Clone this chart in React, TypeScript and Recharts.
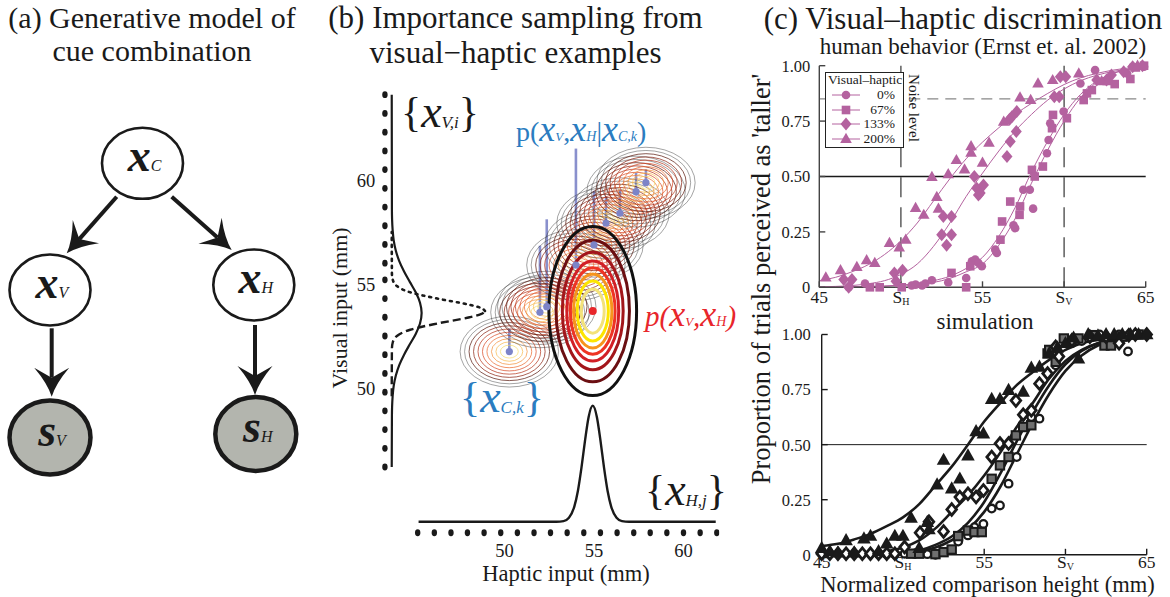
import {
  ComposedChart, ErrorBar, Line, ReferenceLine, Scatter, ScatterChart, XAxis, YAxis,
} from 'recharts'

const SERIF = '"Liberation Serif", "Times New Roman", Times, serif'
const INK = '#1a1a1a'
const MAGENTA = '#b4629f'
const BLUE_TXT = '#2b7cc0'
const STEM = '#7c84c8'
const RED = '#e8262b'

// ---------- (a) generative model: nodes and edges in diagram units ----------
const NODE_SYMBOL = ['x', 'x', 'x', 's', 's']
const NODE_SUB = ['C', 'V', 'H', 'V', 'H']
const NODE_X = [142.5, 50, 253.8, 50, 255.8]
const NODE_Y = [163.3, 290, 285, 437.5, 434]
const NODE_OBSERVED = [false, false, false, true, true]
const EDGE_X1 = [116.7, 171.7, 51.7, 255]
const EDGE_Y1 = [196.7, 196.7, 328.3, 325]
const EDGE_X2 = [66.7, 231.7, 51.7, 255]
const EDGE_Y2 = [253.3, 250, 396.7, 395]

// ---------- (b) importance sampling ----------
// samples x_C,k: haptic / visual location and importance weight (mm)
const SAMPLE_H = [50.27, 51.98, 52.36, 53.99, 55.0, 55.67, 56.45, 57.35, 57.9]
const SAMPLE_V = [51.75, 53.64, 53.91, 55.91, 56.88, 57.92, 58.4, 59.44, 59.87]
const SAMPLE_W = [1.1, 3.2, 4.2, 5.6, 2.6, 1.3, 1.1, 0.9, 0.65]
const SAMPLE_SD_H = 1.0
const SAMPLE_SD_V = 0.62
const SAMPLE_LEVELS = [2.75, 2.5, 2.25, 2.0, 1.75, 1.5, 1.25, 1.0, 0.75, 0.5]
// joint p(x_V, x_H)
const JOINT_H = 54.93
const JOINT_V = 53.7
const JOINT_SD_H = 1.0
const JOINT_SD_V = 1.66
const JOINT_LEVELS = [2.45, 2.05, 1.7, 1.45, 1.25, 1.07, 0.87, 0.64]
// haptic marginal drawn above the x_H,j row
const HAPTIC_CURVE_H = [45.2, 52.9, 53.3, 53.6, 53.9, 54.1, 54.3, 54.5, 54.7, 54.93, 55.16, 55.36, 55.56, 55.76, 55.96, 56.26, 56.56, 56.96, 61.8]
const HAPTIC_CURVE_V = [43.57, 43.57, 43.6, 43.76, 44.3, 45.05, 46.17, 47.48, 48.61, 49.15, 48.61, 47.48, 46.17, 45.05, 44.3, 43.76, 43.6, 43.57, 43.57]
// visual marginal beside the x_V,i column
const VISUAL_CURVE_V = [46.2, 48.6, 49.1, 49.6, 50.1, 50.6, 51.1, 51.6, 52.1, 52.6, 53.1, 53.6, 54.1, 54.6, 55.1, 55.6, 56.1, 56.6, 57.1, 57.6, 58.1, 58.6, 64.1]
const VISUAL_CURVE_H = [43.7, 43.71, 43.72, 43.75, 43.81, 43.93, 44.12, 44.39, 44.71, 45.04, 45.28, 45.37, 45.28, 45.04, 44.71, 44.39, 44.12, 43.93, 43.81, 43.75, 43.72, 43.71, 43.7]
// sharpened visual density (upper half dotted, lower half dashed)
const POST_UP_V = [53.7, 53.85, 54.0, 54.3, 54.6, 54.9, 55.2, 55.5, 57.5]
const POST_UP_H = [48.91, 48.68, 48.05, 46.24, 44.73, 43.99, 43.76, 43.71, 43.7]
const POST_LO_V = [49.6, 51.9, 52.2, 52.5, 52.8, 53.1, 53.4, 53.55, 53.7]
const POST_LO_H = [43.7, 43.71, 43.76, 43.99, 44.73, 46.24, 48.05, 48.68, 48.91]
// example rows
const HAPTIC_EXAMPLES = [45.15, 46.08, 47.01, 47.93, 48.86, 49.79, 50.72, 51.65, 52.57, 53.5, 54.43, 55.36, 56.29, 57.22, 58.14, 59.07, 60.0, 60.93, 61.86]
const HAPTIC_ROW_V = 43.04
const VISUAL_EXAMPLES = [64.1, 63.2, 62.3, 61.4, 60.5, 59.6, 58.7, 57.8, 56.9, 56.0, 55.2, 54.3, 53.4, 52.5, 51.6, 50.7, 49.8, 48.9, 48.0, 47.1, 46.2]
const VISUAL_ROW_H = 43.32
const B_TICKS = [50, 55, 60]

// ---------- (c) psychometric curves ----------
const GRID_X = [45, 46, 47, 48, 49, 50, 51, 52, 53, 54, 55, 56, 57, 58, 59, 60, 61, 62, 63, 64, 65]
const X_TICKS = [45, 50, 55, 60, 65]
const X_TICK_TEXT = ['45', 'S_H', '55', 'S_V', '65']
const Y_TICKS = [0, 0.25, 0.5, 0.75, 1]
const NOISE_LEVEL = 0.85
const LEGEND_NAMES = ['0%', '67%', '133%', '200%']
const MARKERS = ['circle', 'square', 'diamond', 'triangle']

const HUMAN_FIT_0 = [0, 0.001, 0.002, 0.003, 0.005, 0.008, 0.013, 0.022, 0.04, 0.07, 0.105, 0.19, 0.31, 0.47, 0.62, 0.75, 0.855, 0.925, 0.965, 0.985, 0.995]
const HUMAN_FIT_67 = [0, 0.001, 0.002, 0.004, 0.006, 0.01, 0.017, 0.03, 0.05, 0.085, 0.135, 0.23, 0.36, 0.52, 0.66, 0.78, 0.87, 0.93, 0.965, 0.985, 0.995]
const HUMAN_FIT_133 = [0.002, 0.004, 0.008, 0.016, 0.03, 0.058, 0.105, 0.185, 0.29, 0.41, 0.515, 0.615, 0.705, 0.78, 0.845, 0.895, 0.932, 0.957, 0.974, 0.985, 0.992]
const HUMAN_FIT_200 = [0.03, 0.045, 0.07, 0.102, 0.148, 0.21, 0.29, 0.39, 0.49, 0.58, 0.655, 0.72, 0.78, 0.83, 0.875, 0.915, 0.945, 0.965, 0.98, 0.99, 0.997]

const SIM_FIT_0 = [0, 0, 0, 0.001, 0.003, 0.007, 0.015, 0.033, 0.066, 0.115, 0.195, 0.31, 0.455, 0.6, 0.73, 0.835, 0.905, 0.95, 0.972, 0.983, 0.988]
const SIM_FIT_67 = [0, 0, 0.001, 0.002, 0.005, 0.009, 0.02, 0.045, 0.083, 0.145, 0.24, 0.37, 0.515, 0.65, 0.77, 0.865, 0.925, 0.96, 0.977, 0.985, 0.988]
const SIM_FIT_133 = [0.003, 0.004, 0.006, 0.008, 0.016, 0.033, 0.065, 0.12, 0.195, 0.27, 0.36, 0.465, 0.58, 0.69, 0.8, 0.88, 0.93, 0.96, 0.975, 0.982, 0.986]
const SIM_FIT_200 = [0.04, 0.05, 0.07, 0.095, 0.13, 0.17, 0.23, 0.315, 0.4, 0.5, 0.605, 0.69, 0.77, 0.83, 0.885, 0.93, 0.96, 0.975, 0.982, 0.985, 0.987]

// human behaviour (Ernst & Banks 2002)
const HUMAN_0_X = [46.8, 47.8, 50.66, 50.9, 51.3, 51.5, 51.9, 52.9, 54.0, 54.35, 54.55, 54.75, 54.96, 55.78, 55.88, 56.9, 57.0, 57.5, 57.9, 58.1, 58.95, 59.05, 59.15, 59.97, 61.0, 61.9, 63.86, 64.2, 64.9]
const HUMAN_0_Y = [0, 0.017, 0.008, 0.012, 0.008, 0.017, 0.032, 0.022, 0.042, 0.117, 0.125, 0.11, 0.095, 0.17, 0.155, 0.28, 0.267, 0.44, 0.44, 0.355, 0.605, 0.665, 0.74, 0.793, 0.92, 0.98, 0.965, 0.995, 0.995]
const HUMAN_67_X = [48.1, 48.7, 50.05, 53.1, 54.0, 54.25, 56.1, 56.2, 56.7, 57.27, 57.3, 58.03, 58.2, 58.7, 59.26, 59.32, 60.17, 61.2, 61.4, 61.7, 63.1, 64.06, 64.4, 64.9]
const HUMAN_67_Y = [0, 0, 0, 0.065, 0, 0.095, 0.215, 0.297, 0.387, 0.327, 0.365, 0.53, 0.5, 0.545, 0.718, 0.778, 0.763, 0.845, 0.875, 0.89, 0.917, 0.94, 0.992, 1.0]
const HUMAN_133_X = [46.5, 46.8, 47.0, 49.6, 49.7, 50.1, 52.5, 52.6, 52.8, 53.1, 53.1, 54.5, 54.65, 54.75, 54.86, 55.06, 56.5, 56.66, 56.7, 56.8, 57.07, 57.1, 59.4, 59.7, 59.77, 60.1, 62.0, 62.6, 62.9, 63.65, 64.2, 64.8]
const HUMAN_133_Y = [0.035, 0, 0.035, 0.065, 0.027, 0.077, 0.237, 0.32, 0.19, 0.32, 0.237, 0.5, 0.447, 0.417, 0.425, 0.462, 0.59, 0.758, 0.658, 0.77, 0.703, 0.793, 0.86, 0.86, 0.95, 0.95, 0.935, 0.935, 0.958, 0.973, 0.995, 1.0]
const HUMAN_200_X = [45.4, 46.3, 47.3, 47.9, 48.4, 49.3, 49.9, 50.3, 50.9, 51.4, 51.9, 52.2, 52.3, 52.9, 53.4, 53.9, 54.3, 54.3, 55.0, 55.4, 56.3, 57.3, 57.95, 58.4, 59.3, 60.9, 62.3, 62.7, 64.5]
const HUMAN_200_Y = [0.044, 0.077, 0.092, 0.122, 0.11, 0.2, 0.18, 0.215, 0.358, 0.327, 0.498, 0.408, 0.355, 0.51, 0.574, 0.532, 0.637, 0.607, 0.562, 0.652, 0.747, 0.857, 0.845, 0.92, 0.935, 0.965, 0.93, 0.93, 1.0]

// simulation
const SIM_0_X = [48.5, 49.0, 49.5, 50.1, 50.7, 51.5, 52.0, 52.5, 53.4, 54.0, 54.4, 54.95, 55.46, 55.97, 56.5, 57.0, 57.9, 58.4, 59.4, 60.4, 61.0, 62.1, 63.3, 63.85, 64.5]
const SIM_0_Y = [0.003, 0.003, 0.003, 0.005, 0.005, 0.003, 0, 0.012, 0.06, 0.088, 0.125, 0.14, 0.21, 0.224, 0.323, 0.444, 0.625, 0.618, 0.86, 0.96, 0.97, 1.0, 1.0, 0.923, 1.0]
const SIM_67_X = [50.5, 51.0, 52.0, 52.5, 53.0, 53.4, 54.0, 54.4, 54.85, 55.46, 55.97, 56.5, 56.95, 57.4, 57.9, 58.9, 59.0, 59.4, 59.9, 60.8, 61.7, 62.4, 62.8, 63.5, 64.5]
const SIM_67_Y = [0.005, 0.005, 0.003, 0.012, 0.024, 0.085, 0.11, 0.103, 0.103, 0.345, 0.406, 0.444, 0.542, 0.58, 0.588, 0.914, 0.93, 0.876, 0.982, 0.982, 0.997, 0.95, 0.95, 0.99, 1.0]
const SIM_133_X = [45.0, 45.5, 46.0, 46.5, 47.0, 47.5, 48.0, 48.5, 49.0, 49.5, 50.1, 51.05, 51.6, 52.5, 53.0, 53.5, 54.0, 54.5, 54.95, 55.46, 55.97, 56.5, 56.95, 57.4, 57.9, 58.4, 58.9, 59.4, 59.6, 60.4, 61.5, 62.5, 63.3, 63.9, 64.3, 65.0]
const SIM_133_Y = [0.005, 0.005, 0.005, 0.005, 0.005, 0.005, 0.005, 0.005, 0.005, 0.005, 0.035, 0.1, 0.15, 0.106, 0.206, 0.262, 0.277, 0.262, 0.292, 0.444, 0.505, 0.505, 0.7, 0.636, 0.656, 0.777, 0.823, 0.944, 0.9, 0.974, 0.99, 0.99, 0.96, 0.997, 1.0, 1.0]
const SIM_200_X = [45.0, 45.5, 46.0, 46.5, 47.0, 47.6, 48.0, 48.5, 49.0, 49.5, 50.0, 50.5, 51.0, 51.5, 51.6, 52.1, 52.5, 53.0, 53.5, 54.0, 54.5, 54.95, 55.46, 55.97, 56.5, 57.4, 57.9, 58.4, 59.0, 59.5, 60.0, 60.5, 60.8, 61.4, 62.0, 62.5, 63.0, 63.5, 64.0, 64.5, 65.0]
const SIM_200_Y = [0.03, 0.015, 0.01, 0.065, 0.01, 0.073, 0.085, 0.015, 0.05, 0.085, 0.085, 0.167, 0.03, 0.148, 0.115, 0.318, 0.43, 0.3, 0.345, 0.45, 0.56, 0.55, 0.706, 0.706, 0.747, 0.739, 0.848, 0.853, 0.914, 0.94, 0.96, 0.985, 0.89, 1.0, 0.995, 1.0, 1.0, 1.0, 1.0, 1.0, 1.0]

const HUMAN_FITS = [HUMAN_FIT_0, HUMAN_FIT_67, HUMAN_FIT_133, HUMAN_FIT_200]
const SIM_FITS = [SIM_FIT_0, SIM_FIT_67, SIM_FIT_133, SIM_FIT_200]
const HUMAN_PTS = [[HUMAN_0_X, HUMAN_0_Y], [HUMAN_67_X, HUMAN_67_Y], [HUMAN_133_X, HUMAN_133_Y], [HUMAN_200_X, HUMAN_200_Y]]
const SIM_PTS = [[SIM_0_X, SIM_0_Y], [SIM_67_X, SIM_67_Y], [SIM_133_X, SIM_133_Y], [SIM_200_X, SIM_200_Y]]

// ---------- layout of chart (b) ----------
const B_W = 420
const B_H = 520
const B_MARGIN = { top: 26.4, right: 20.7, bottom: 8.1, left: 29.2 }
const B_AXIS = 30
const B_XDOM = [43, 62]
const B_YDOM = [42.6, 64.5]
const PX_H = (B_W - B_MARGIN.left - B_MARGIN.right - B_AXIS) / (B_XDOM[1] - B_XDOM[0])
const PX_V = (B_H - B_MARGIN.top - B_MARGIN.bottom - B_AXIS) / (B_YDOM[1] - B_YDOM[0])

const SAMPLE_RING = ['#333', '#333', '#5a1a10', '#8b2312', '#b5351c', '#d84a26', '#ec6a2e', '#f4913c', '#f8b94e', '#f6dc6c']
const JOINT_RING = ['#111', '#6b0f12', '#a3161b', '#d21f26', '#ee3424', '#f7941d', '#fde500', '#f3e27a']

const zip = (xs: number[], ys: number[]) => xs.map((x, i) => ({ x, y: ys[i] }))
const blankTick = () => <g />

// ---------- (a) ----------
function NodeShape (p: any) {
  const { cx, cy, payload } = p
  if (cx == null || cy == null) return null
  const obs = payload.observed
  return (
    <g>
      <ellipse cx={cx} cy={cy} rx={40.5} ry={obs ? 37 : 35.5}
        fill={obs ? '#b3b5ae' : '#fff'} stroke={INK} strokeWidth={obs ? 4.5 : 2.6} />
      <text x={cx + 2} y={cy + 8} textAnchor="middle" fontFamily={SERIF} fill={INK}>
        <tspan fontSize={46} fontWeight="bold" fontStyle="italic">{payload.symbol}</tspan>
        <tspan fontSize={16} fontStyle="italic">{payload.sub}</tspan>
      </text>
    </g>
  )
}

function ArrowShape (p: any) {
  const { x1, y1, x2, y2 } = p
  const dx = x2 - x1
  const dy = y2 - y1
  const len = Math.hypot(dx, dy) || 1
  const ux = dx / len
  const uy = dy / len
  const nx = -uy
  const ny = ux
  const headL = 29
  const headW = 17.5
  const notch = 19
  const bx = x2 - ux * headL
  const by = y2 - uy * headL
  const mx = x2 - ux * notch
  const my = y2 - uy * notch
  const c1x = x2 - ux * headL * 0.45 + nx * 4
  const c1y = y2 - uy * headL * 0.45 + ny * 4
  const c2x = x2 - ux * headL * 0.45 - nx * 4
  const c2y = y2 - uy * headL * 0.45 - ny * 4
  const d = `M${x2},${y2} Q${c1x},${c1y} ${bx + nx * headW},${by + ny * headW} L${mx},${my} L${bx - nx * headW},${by - ny * headW} Q${c2x},${c2y} ${x2},${y2} Z`
  return (
    <g>
      <line x1={x1} y1={y1} x2={mx} y2={my} stroke={INK} strokeWidth={4} />
      <path d={d} fill={INK} />
    </g>
  )
}

function ModelChart () {
  const nodes = NODE_SYMBOL.map((symbol, i) => ({
    x: NODE_X[i], y: NODE_Y[i], symbol, sub: NODE_SUB[i], observed: NODE_OBSERVED[i],
  }))
  return (
    <ScatterChart width={320} height={597} margin={{ top: 0, right: 0, bottom: 0, left: 0 }}>
      <XAxis type="number" dataKey="x" domain={[0, 320]} hide />
      <YAxis type="number" dataKey="y" domain={[0, 597]} reversed hide />
      {EDGE_X1.map((x1, i) => (
        <ReferenceLine key={i} segment={[{ x: x1, y: EDGE_Y1[i] }, { x: EDGE_X2[i], y: EDGE_Y2[i] }]}
          shape={ArrowShape} ifOverflow="visible" />
      ))}
      <Scatter data={nodes} shape={NodeShape} isAnimationActive={false} />
    </ScatterChart>
  )
}

// ---------- (b) ----------
function SampleContours (p: any) {
  const { cx, cy } = p
  if (cx == null || cy == null) return null
  return (
    <g>
      {SAMPLE_LEVELS.map((k, i) => (
        <ellipse key={i} cx={cx} cy={cy} rx={k * SAMPLE_SD_H * PX_H} ry={k * SAMPLE_SD_V * PX_V}
          fill="none" stroke={SAMPLE_RING[i]} strokeWidth={i < 2 ? 0.6 : 0.9} opacity={i < 2 ? 0.75 : 0.8} />
      ))}
    </g>
  )
}

function JointContours (p: any) {
  const { cx, cy } = p
  if (cx == null || cy == null) return null
  return (
    <g>
      {JOINT_LEVELS.map((k, i) => (
        <ellipse key={i} cx={cx} cy={cy} rx={k * JOINT_SD_H * PX_H} ry={k * JOINT_SD_V * PX_V}
          fill="none" stroke={JOINT_RING[i]} strokeWidth={3} />
      ))}
      <circle cx={cx} cy={cy} r={4} fill={RED} />
    </g>
  )
}

function StemDot (p: any) {
  const { cx, cy } = p
  if (cx == null || cy == null) return null
  return <circle cx={cx} cy={cy} r={3.6} fill={STEM} />
}

function RowDot (p: any) {
  const { cx, cy } = p
  if (cx == null || cy == null) return null
  return <ellipse cx={cx} cy={cy} rx={2.7} ry={3.4} fill={INK} />
}

function SamplingChart () {
  const samples = SAMPLE_H.map((h, i) => ({ h, v: SAMPLE_V[i], w: [0, SAMPLE_W[i]] }))
  const joint = [{ h: JOINT_H, v: JOINT_V }]
  const hapticCurve = HAPTIC_CURVE_H.map((h, i) => ({ h, v: HAPTIC_CURVE_V[i] }))
  const visualCurve = VISUAL_CURVE_V.map((v, i) => ({ h: VISUAL_CURVE_H[i], v }))
  const postUp = POST_UP_V.map((v, i) => ({ h: POST_UP_H[i], v }))
  const postLo = POST_LO_V.map((v, i) => ({ h: POST_LO_H[i], v }))
  const hRow = HAPTIC_EXAMPLES.map((h) => ({ h, v: HAPTIC_ROW_V }))
  const vRow = VISUAL_EXAMPLES.map((v) => ({ h: VISUAL_ROW_H, v }))
  const tick = { fontSize: 18.5, fill: INK, fontFamily: SERIF }
  return (
    <ComposedChart width={B_W} height={B_H} margin={B_MARGIN}>
      <XAxis type="number" dataKey="h" domain={B_XDOM} ticks={B_TICKS} interval={0} axisLine={false}
        tickLine={false} tickSize={2} tickMargin={0} height={B_AXIS} tick={tick} allowDataOverflow />
      <YAxis type="number" dataKey="v" domain={B_YDOM} ticks={B_TICKS} interval={0} axisLine={false}
        tickLine={false} tickSize={4} tickMargin={0} width={B_AXIS} tick={tick} allowDataOverflow />
      <Scatter data={samples} shape={SampleContours} isAnimationActive={false} />
      <Scatter data={joint} shape={JointContours} isAnimationActive={false} />
      <Scatter data={samples} shape={StemDot} isAnimationActive={false}>
        <ErrorBar dataKey="w" direction="y" width={0} stroke={STEM} strokeWidth={2.6} strokeOpacity={0.9} />
      </Scatter>
      <Line data={hapticCurve} dataKey="v" type="monotone" stroke={INK} strokeWidth={2.4} dot={false} isAnimationActive={false} />
      <Line data={visualCurve} dataKey="v" type="monotoneY" stroke={INK} strokeWidth={2.2} dot={false} isAnimationActive={false} />
      <Line data={postUp} dataKey="v" type="monotoneY" stroke={INK} strokeWidth={2.6} strokeDasharray="2 5"
        strokeLinecap="round" dot={false} isAnimationActive={false} />
      <Line data={postLo} dataKey="v" type="monotoneY" stroke={INK} strokeWidth={2.4} strokeDasharray="8 4"
        dot={false} isAnimationActive={false} />
      <Scatter data={hRow} shape={RowDot} isAnimationActive={false} />
      <Scatter data={vRow} shape={RowDot} isAnimationActive={false} />
    </ComposedChart>
  )
}

// ---------- (c) ----------
function Marker ({ kind, cx, cy, human }: { kind: string; cx: number; cy: number; human?: boolean }) {
  if (human) {
    if (kind === 'circle') return <circle cx={cx} cy={cy} r={4.3} fill={MAGENTA} />
    if (kind === 'square') return <rect x={cx - 4.3} y={cy - 4.3} width={8.6} height={8.6} fill={MAGENTA} />
    if (kind === 'diamond') return <polygon points={`${cx},${cy - 6.5} ${cx + 5.5},${cy} ${cx},${cy + 6.5} ${cx - 5.5},${cy}`} fill={MAGENTA} />
    return <polygon points={`${cx},${cy - 6.2} ${cx + 5.8},${cy + 4} ${cx - 5.8},${cy + 4}`} fill={MAGENTA} />
  }
  if (kind === 'circle') return <circle cx={cx} cy={cy} r={3.8} fill="#fff" stroke={INK} strokeWidth={2.3} />
  if (kind === 'square') return <rect x={cx - 4.2} y={cy - 4.2} width={8.4} height={8.4} fill="#6f6f6f" stroke={INK} strokeWidth={2} />
  if (kind === 'diamond') return <polygon points={`${cx},${cy - 5.8} ${cx + 4.8},${cy} ${cx},${cy + 5.8} ${cx - 4.8},${cy}`} fill="#fff" stroke={INK} strokeWidth={2.8} />
  return <polygon points={`${cx},${cy - 7.4} ${cx + 6.8},${cy + 4.8} ${cx - 6.8},${cy + 4.8}`} fill={INK} />
}

function PsychXTick (p: any) {
  const { x, y, payload } = p
  const label = X_TICK_TEXT[X_TICKS.indexOf(payload.value)] ?? String(payload.value)
  const sub = label.includes('_') ? label.split('_')[1] : null
  return (
    <text x={x} y={y} dy="0.71em" textAnchor="middle" fontFamily={SERIF} fontSize={17.5} fill={INK}>
      {sub ? (<><tspan>S</tspan><tspan fontSize={10} dy={2}>{sub}</tspan></>) : label}
    </text>
  )
}

function PsychChart ({ human }: { human?: boolean }) {
  const ink = human ? MAGENTA : INK
  const frame = human ? '#444' : INK
  const fits = human ? HUMAN_FITS : SIM_FITS
  const pts = human ? HUMAN_PTS : SIM_PTS
  const margin = human
    ? { top: 10.7, right: 14.3, bottom: 2.7, left: 9.3 }
    : { top: 12.5, right: 13.3, bottom: 12.2, left: 11.7 }
  return (
    <ComposedChart width={400} height={human ? 265 : 275} margin={margin}>
      <XAxis type="number" dataKey="x" domain={[45, 65]} ticks={X_TICKS} interval={0} tick={PsychXTick}
        tickSize={-6} tickMargin={human ? 9.5 : 6.5} height={30} stroke={frame} strokeWidth={1.4} />
      <XAxis xAxisId="top" orientation="top" type="number" domain={[45, 65]} ticks={X_TICKS} interval={0}
        tick={blankTick} tickSize={-6} height={0} stroke={frame} strokeWidth={1.4} />
      <YAxis type="number" dataKey="y" domain={[0, 1]} ticks={Y_TICKS} interval={0}
        tickFormatter={(v: number) => (v === 0 ? '0' : v.toFixed(2))}
        tick={{ fontSize: 16.5, fill: INK, fontFamily: SERIF }} tickSize={-6} tickMargin={human ? 15 : 17}
        width={50} stroke={frame} strokeWidth={1.4} />
      <YAxis yAxisId="right" orientation="right" type="number" domain={[0, 1]} ticks={Y_TICKS} interval={0}
        tick={blankTick} tickSize={-6} width={0} stroke={frame} strokeWidth={1.4} />
      {human && <ReferenceLine x={50} stroke="#444" strokeWidth={1.3} strokeDasharray="20 10" />}
      {human && <ReferenceLine x={60} stroke="#444" strokeWidth={1.3} strokeDasharray="20 10" />}
      {human && <ReferenceLine y={NOISE_LEVEL} stroke="#888" strokeWidth={1.3} strokeDasharray="11 7" />}
      <ReferenceLine y={0.5} stroke={INK} strokeWidth={human ? 1.6 : 1} />
      {fits.map((f, i) => (
        <Line key={`f${i}`} data={zip(GRID_X, f)} dataKey="y" type="monotone" stroke={ink}
          strokeWidth={human ? 1 : 2.6} dot={false} isAnimationActive={false} />
      ))}
      {pts.map(([xs, ys], i) => (
        <Scatter key={`p${i}`} data={zip(xs, ys)} isAnimationActive={false}
          shape={(s: any) => <Marker kind={MARKERS[i]} cx={s.cx} cy={s.cy} human={human} />} />
      ))}
    </ComposedChart>
  )
}

function HumanLegend () {
  return (
    <div style={{
      position: 'absolute', left: 825, top: 72, width: 77, height: 74, border: '1px solid #222',
      background: '#fff', fontFamily: SERIF, color: INK,
    }}>
      <div style={{ position: 'absolute', left: 2, top: 0, fontSize: 13.5, lineHeight: '14px', whiteSpace: 'nowrap' }}>Visual–haptic</div>
      {LEGEND_NAMES.map((name, i) => (
        <div key={name} style={{ position: 'absolute', left: 0, top: 15.2 + i * 14.6, width: 77, height: 14 }}>
          <svg width={34} height={14} style={{ position: 'absolute', left: 0, top: 0 }}>
            <line x1={6} x2={34} y1={7} y2={7} stroke={MAGENTA} strokeWidth={1} />
            <Marker kind={MARKERS[i]} cx={20} cy={7} human />
          </svg>
          <div style={{ position: 'absolute', right: 8, top: 0, fontSize: 13.5, lineHeight: '14px' }}>{name}</div>
        </div>
      ))}
    </div>
  )
}

function Caption ({ x, y, size, rotate, children }: { x: number; y: number; size: number; rotate?: number; children: any }) {
  return (
    <div style={{
      position: 'absolute', left: x, top: y, fontSize: size, lineHeight: 1, whiteSpace: 'nowrap',
      transform: `translate(-50%, -50%)${rotate ? ` rotate(${rotate}deg)` : ''}`,
    }}>{children}</div>
  )
}

// two-line panel heading, positioned by its first baseline
function Heading ({ x, baseline, lineGap, size, first, second }: { x: number; baseline: number; lineGap: number; size: number; first: string; second: string }) {
  const top = baseline - lineGap / 2 - 0.3375 * size
  return (
    <div style={{
      position: 'absolute', left: x, top, transform: 'translateX(-50%)', fontSize: size,
      lineHeight: `${lineGap}px`, whiteSpace: 'nowrap', textAlign: 'center',
    }}>{first}<br />{second}</div>
  )
}

// {x_sub} set label, glyphs laid out in sequence
function SetLabel ({ x, y, color, sub }: { x: number; y: number; color: string; sub: string }) {
  return (
    <text x={x} y={y} fontFamily={SERIF} fontSize={42} fill={color}>
      <tspan dy={-1}>{'{'}</tspan>
      <tspan dy={1} fontSize={46} fontStyle="italic">x</tspan>
      <tspan dy={1} fontSize={17} fontStyle="italic">{sub}</tspan>
      <tspan dy={-2}>{'}'}</tspan>
    </text>
  )
}

function MathLabels () {
  return (
    <svg width={1170} height={597} style={{ position: 'absolute', left: 0, top: 0, pointerEvents: 'none' }}>
      <SetLabel x={401} y={127} color={INK} sub="V,i" />
      <SetLabel x={460} y={412} color={BLUE_TXT} sub="C,k" />
      <SetLabel x={645} y={505} color={INK} sub="H,j" />
      {/* p(x_V, x_H | x_C,k) */}
      <text x={516} y={141} fontFamily={SERIF} fill={BLUE_TXT} fontSize={28}>
        <tspan>p(</tspan>
        <tspan fontSize={36} fontStyle="italic">x</tspan><tspan fontSize={13} fontStyle="italic">V</tspan>
        <tspan>,</tspan>
        <tspan fontSize={36} fontStyle="italic">x</tspan><tspan fontSize={14} fontStyle="italic">H</tspan>
        <tspan>|</tspan>
        <tspan fontSize={36} fontStyle="italic">x</tspan><tspan fontSize={14} fontStyle="italic">C,k</tspan>
        <tspan>)</tspan>
      </text>
      {/* p(x_V, x_H) */}
      <text x={645} y={326} fontFamily={SERIF} fill={RED} fontSize={29} fontStyle="italic">
        <tspan>p(</tspan>
        <tspan fontSize={36}>x</tspan><tspan fontSize={13}>V</tspan>
        <tspan>,</tspan>
        <tspan fontSize={36}>x</tspan><tspan fontSize={14}>H</tspan>
        <tspan>)</tspan>
      </text>
    </svg>
  )
}

export default function App () {
  return (
    <div style={{
      position: 'absolute', left: 0, top: 0, width: 1170, height: 597, background: '#fff',
      fontFamily: SERIF, color: INK, overflow: 'hidden',
    }}>
      <div style={{ position: 'absolute', left: 0, top: 0 }}><ModelChart /></div>
      <div style={{ position: 'absolute', left: 320, top: 60 }}><SamplingChart /></div>
      <div style={{ position: 'absolute', left: 760, top: 55 }}><PsychChart human /></div>
      <div style={{ position: 'absolute', left: 760, top: 322 }}><PsychChart /></div>
      <HumanLegend />
      <MathLabels />

      <Heading x={152} baseline={27.5} lineGap={33.4} size={30} first="(a) Generative model of" second="cue combination" />
      <Heading x={515.5} baseline={27.5} lineGap={35} size={31} first="(b) Importance sampling from" second="visual−haptic examples" />
      <Caption x={339.6} y={307.5} size={22} rotate={-90}>Visual input (mm)</Caption>
      <Caption x={566} y={574} size={22.5}>Haptic input (mm)</Caption>

      <Caption x={963} y={17.5} size={31}>(c) Visual–haptic discrimination</Caption>
      <Caption x={983} y={46} size={23}>human behavior (Ernst et. al. 2002)</Caption>
      <Caption x={985} y={320.5} size={23}>simulation</Caption>
      <Caption x={987.5} y={584.5} size={22.5}>Normalized comparison height (mm)</Caption>
      <Caption x={761} y={279} size={26.5} rotate={-90}>Proportion of trials perceived as 'taller'</Caption>
      <Caption x={913} y={108} size={15} rotate={90}>Noise level</Caption>
    </div>
  )
}
